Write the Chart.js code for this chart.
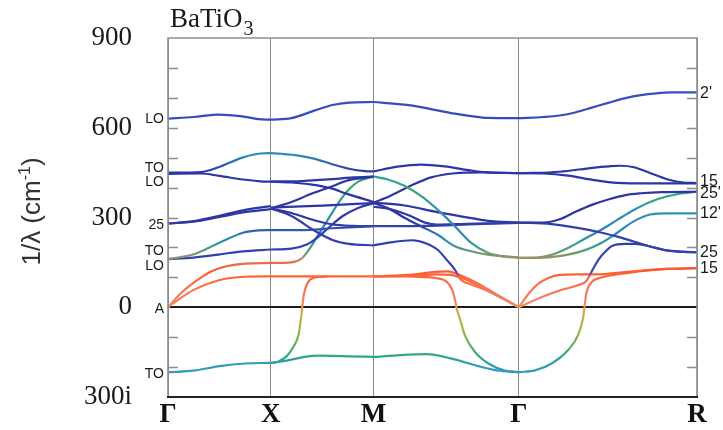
<!DOCTYPE html>
<html>
<head>
<meta charset="utf-8">
<title>BaTiO3 phonon dispersion</title>
<script src="https://cdn.jsdelivr.net/npm/chart.js"></script>
<style>
  html, body { margin: 0; padding: 0; background: #fff; }
  #wrap { width: 723px; height: 430px; }
</style>
</head>
<body>
<div id="wrap"><canvas id="dispersion" width="723" height="430"></canvas></div>
<script>
// path Γ–X–M–Γ–R, distance along the path in units of π/a
const pathTicks = [0, 1, 2, 3.414, 5.146];
const pathLabels = ['Γ', 'X', 'M', 'Γ', 'R'];
// frequency axis, negative values are imaginary frequencies
const freqTicks = [900, 600, 300, 0, -300];
const freqLabels = ['900', '600', '300', '0', '300i'];

// mode labels at Γ (left edge) and at R (right edge): [text, cm-1]
const gammaModes = [['LO', 630], ['TO', 466], ['LO', 419], ['25', 276], ['TO', 187], ['LO', 136], ['A', -6], ['TO', -222]];
const rModes = [["2'", 715], ['15', 421], ["25'", 380], ["12'", 313], ['25', 184], ['15', 128]];

// branches on each leg of the path, points are [q, frequency]
const gammaX = [
  [[0, 630], [0.25, 636], [0.5, 644], [0.72, 638], [0.88, 629], [1, 627]],
  [[0, 450], [0.32, 452], [0.49, 468], [0.73, 501], [0.9, 514], [1, 515]],
  [[0, 446], [0.32, 447], [0.5, 439], [0.73, 427], [0.9, 421], [1, 420]],
  [[0, 280], [0.25, 288], [0.49, 305], [0.73, 324], [1, 338]],
  [[0, 280], [0.25, 286], [0.49, 301], [0.73, 317], [1, 328]],
  [[0, 161], [0.25, 177], [0.49, 214], [0.73, 249], [0.88, 257], [1, 258]],
  [[0, 161], [0.25, 166], [0.49, 176], [0.73, 187], [1, 193]],
  [[0, 0], [0.12, 45], [0.25, 82], [0.41, 118], [0.57, 137], [0.75, 146], [1, 148]],
  [[0, 0], [0.12, 30], [0.25, 58], [0.41, 81], [0.57, 96], [0.75, 102], [1, 103]],
  [[0, -217], [0.25, -212], [0.5, -197], [0.75, -188], [1, -186]]
];

const xM = [
  [[1, 627], [1.2, 632], [1.43, 658], [1.6, 676], [1.76, 684], [2, 686]],
  [[1, 515], [1.1, 513], [1.27, 507], [1.43, 496], [1.59, 479], [1.76, 463], [1.92, 455], [2, 454]],
  [[1, 420], [1.2, 417], [1.4, 410], [1.58, 398], [1.75, 378], [2, 352]],
  [[1, 420], [1.3, 422], [1.6, 428], [1.8, 434], [2, 437]],
  [[1, 330], [1.2, 352], [1.4, 380], [1.58, 402], [1.75, 424], [2, 437]],
  [[1, 333], [1.5, 340], [2, 348]],
  [[1, 330], [1.2, 315], [1.43, 290], [1.6, 277], [1.8, 272], [2, 271]],
  [[1, 330], [1.2, 305], [1.43, 255], [1.6, 225], [1.76, 212], [2, 207]],
  [[1, 258], [1.3, 258], [1.6, 264], [2, 271]],
  [[1, 193], [1.2, 196], [1.35, 210], [1.45, 232], [1.55, 262], [1.7, 305], [1.85, 332], [2, 348]],
  [[1, 148], [1.2, 150], [1.3, 163], [1.38, 197], [1.45, 236], [1.55, 290], [1.65, 345], [1.75, 390], [1.85, 420], [2, 437]],
  [[1, 103], [1.5, 103], [2, 103]],
  [[1, -186], [1.07, -182], [1.15, -165], [1.22, -132], [1.27, -92], [1.3, -20], [1.32, 40], [1.36, 82], [1.42, 99], [1.55, 103]],
  [[1, -186], [1.12, -180], [1.45, -162], [1.77, -164], [2, -166]]
];

const mGamma = [
  [[2, 686], [2.3, 677], [2.46, 669], [2.62, 658], [2.79, 647], [2.95, 639], [3.11, 633], [3.414, 632]],
  [[2, 454], [2.23, 470], [2.46, 477], [2.69, 471], [2.95, 457], [3.11, 451], [3.414, 448]],
  [[2, 437], [2.13, 428], [2.3, 406], [2.46, 372], [2.62, 327], [2.79, 271], [2.95, 215], [3.11, 182], [3.25, 170], [3.414, 165]],
  [[2, 350], [2.16, 372], [2.36, 406], [2.56, 434], [2.79, 448], [3.05, 451], [3.414, 448]],
  [[2, 350], [2.3, 340], [2.62, 318], [2.95, 298], [3.11, 289], [3.414, 283]],
  [[2, 336], [2.16, 328], [2.36, 305], [2.5, 283], [2.62, 276], [2.9, 279], [3.414, 282]],
  [[2, 271], [2.5, 272], [3, 278], [3.414, 282]],
  [[2, 348], [2.13, 333], [2.3, 299], [2.46, 271], [2.62, 243], [2.79, 204], [2.95, 187], [3.11, 176], [3.414, 167]],
  [[2, 207], [2.15, 216], [2.38, 224], [2.5, 215], [2.62, 193], [2.72, 155], [2.79, 126], [2.85, 92], [2.95, 76], [3.1, 56], [3.25, 30], [3.414, 0]],
  [[2, 103], [2.4, 110], [2.6, 118], [2.72, 120], [2.85, 106], [3, 82], [3.2, 42], [3.414, 0]],
  [[2, 103], [2.4, 106], [2.6, 110], [2.75, 108], [2.9, 92], [3.1, 58], [3.414, 0]],
  [[2, 103], [2.3, 103], [2.5, 101], [2.62, 97], [2.7, 88], [2.76, 62], [2.795, 20], [2.805, 0], [2.838, -37], [2.887, -93], [2.985, -149], [3.117, -188], [3.28, -212], [3.414, -217]],
  [[2, -166], [2.26, -160], [2.52, -157], [2.75, -171], [3.01, -196], [3.2, -211], [3.414, -217]]
];

const gammaR = [
  [[3.414, 632], [3.65, 636], [3.81, 641], [3.97, 652], [4.13, 668], [4.29, 684], [4.45, 699], [4.6, 709], [4.75, 715], [4.9, 718], [5.146, 718]],
  [[3.414, 448], [3.81, 453], [4.13, 466], [4.29, 471], [4.4, 473], [4.533, 468], [4.694, 448], [4.854, 428], [5.014, 417], [5.146, 415]],
  [[3.414, 448], [3.65, 447], [3.89, 440], [4.13, 426], [4.37, 416], [4.7, 414], [5.146, 414]],
  [[3.414, 283], [3.65, 283], [3.81, 294], [3.97, 320], [4.13, 343], [4.29, 361], [4.45, 375], [4.6, 381], [4.8, 385], [5.146, 386]],
  [[3.414, 283], [3.73, 278], [3.97, 266], [4.21, 250], [4.37, 236], [4.53, 220], [4.69, 203], [4.85, 190], [5.01, 185], [5.146, 184]],
  [[3.414, 165], [3.6, 166], [3.73, 175], [3.89, 198], [4.05, 228], [4.21, 258], [4.37, 292], [4.53, 325], [4.69, 352], [4.85, 370], [5.01, 381], [5.146, 387]],
  [[3.414, 165], [3.65, 166], [3.89, 176], [4.05, 190], [4.21, 214], [4.37, 249], [4.53, 287], [4.69, 310], [4.85, 314], [5.146, 314]],
  [[3.414, 0], [3.65, 36], [3.81, 56], [3.97, 72], [4.07, 88], [4.13, 125], [4.19, 160], [4.26, 188], [4.32, 205], [4.45, 212], [4.55, 212], [4.69, 203], [4.85, 190], [5.146, 184]],
  [[3.414, 0], [3.5, 42], [3.6, 78], [3.7, 98], [3.81, 108], [4, 110], [4.2, 110], [4.37, 115], [4.53, 120], [4.69, 125], [4.85, 128], [5.146, 131]],
  [[3.414, -217], [3.571, -211], [3.732, -188], [3.892, -143], [3.989, -93], [4.037, -37], [4.052, 2], [4.068, 45], [4.11, 80], [4.2, 98], [4.3, 106], [4.45, 114], [4.6, 121], [4.85, 128], [5.146, 131]]
];

// colour scheme per branch (vertical gradient, chosen by mode character)
const tones = {
  gammaX: ['map', 'hi', 'map', 'map', 'map', 'map', 'blue', 'map', 'map', 'map'],
  xM: ['map', 'hi', 'map', 'map', 'map', 'map', 'map', 'blue', 'map', 'blue', 'green', 'map', 'map', 'map'],
  mGamma: ['map', 'map', 'green', 'map', 'map', 'map', 'map', 'map', 'blue', 'map', 'map', 'map', 'map'],
  gammaR: ['map', 'map', 'map', 'map', 'blue', 'green', 'green', 'blue', 'map', 'map']
};

const mapStops = [
  [900, '#3c58c8'], [560, '#3447b6'], [470, '#2c36a4'], [290, '#2d35a2'], [268, '#3146ab'],
  [245, '#2f78b8'], [215, '#2b97a6'], [186, '#5f9b78'], [168, '#949268'], [150, '#e4704a'],
  [126, '#ff5630'], [100, '#ff663a'], [50, '#f5785a'], [8, '#f08a6a'], [-6, '#d9a646'],
  [-60, '#b5b442'], [-120, '#68b060'], [-168, '#2aa58c'], [-195, '#339bbb'], [-300, '#3c8ad8']
];
const ownStops = {
  map: [],
  blue: [[900, '#3c58c8'], [470, '#2c36a4'], [130, '#3442b2'], [112, '#7050a0']],
  green: [[900, '#3c58c8'], [470, '#2e5ab6'], [440, '#2aa092'], [392, '#36a872'], [330, '#2b96ae'],
          [262, '#3080bc'], [212, '#2b9aa2'], [182, '#6a9c70'], [166, '#949268']],
  hi: [[900, '#3c58c8'], [530, '#2896b8'], [500, '#2a86b8'], [470, '#2e4fb0'], [452, '#2c36a4']]
};

function stopsFor(tone) {
  const own = ownStops[tone];
  if (!own.length) return mapStops;
  const last = own[own.length - 1][0];
  return own.concat(mapStops.filter(s => s[0] < last));
}

const gradientCache = {};
function toneGradient(chart, tone) {
  const { ctx, chartArea, scales } = chart;
  const key = tone + ':' + chartArea.top + ':' + chartArea.bottom;
  if (gradientCache[key]) return gradientCache[key];
  const h = chartArea.bottom - chartArea.top;
  const g = ctx.createLinearGradient(0, chartArea.top, 0, chartArea.bottom);
  stopsFor(tone).forEach(([v, c]) => {
    const off = (scales.y.getPixelForValue(v) - chartArea.top) / h;
    g.addColorStop(Math.min(1, Math.max(0, off)), c);
  });
  gradientCache[key] = g;
  return g;
}

const legs = { gammaX, xM, mGamma, gammaR };
const datasets = [];
Object.keys(legs).forEach(name => {
  legs[name].forEach((pts, i) => {
    const tone = tones[name][i];
    datasets.push({
      data: pts,
      borderColor: c => c.chart.chartArea ? toneGradient(c.chart, tone) : '#3040b0',
      borderWidth: 2.2,
      pointRadius: 0,
      fill: false,
      cubicInterpolationMode: 'monotone'
    });
  });
});

// frame, inward ticks, mode labels, compound name and axis title
const decor = {
  id: 'decor',
  afterDatasetsDraw(chart) {
    const { ctx, chartArea: a, scales: { y } } = chart;
    ctx.save();

    ctx.strokeStyle = '#8d8d8d';
    ctx.lineWidth = 1.3;
    for (let v = -200; v <= 800; v += 100) {
      if (v === 0) continue;
      const py = Math.round(y.getPixelForValue(v)) + 0.5;
      ctx.beginPath();
      ctx.moveTo(a.left, py); ctx.lineTo(a.left + 10, py);
      ctx.moveTo(a.right - 10, py); ctx.lineTo(a.right, py);
      ctx.stroke();
    }

    ctx.lineWidth = 1.6;
    ctx.beginPath();
    ctx.moveTo(a.left, a.bottom); ctx.lineTo(a.left, a.top);
    ctx.lineTo(a.right, a.top); ctx.lineTo(a.right, a.bottom);
    ctx.stroke();
    ctx.strokeStyle = '#222';
    ctx.lineWidth = 2;
    ctx.beginPath();
    ctx.moveTo(a.left - 1, a.bottom); ctx.lineTo(a.right + 1, a.bottom);
    ctx.stroke();

    ctx.fillStyle = '#1a1a1a';
    ctx.textBaseline = 'middle';
    ctx.font = '14px "Liberation Sans"';
    ctx.textAlign = 'right';
    gammaModes.forEach(([t, v]) => ctx.fillText(t, a.left - 4, y.getPixelForValue(v)));
    ctx.font = '16px "Liberation Sans"';
    ctx.textAlign = 'left';
    rModes.forEach(([t, v]) => ctx.fillText(t, a.right + 3, y.getPixelForValue(v)));

    // BaTiO3 with subscript
    ctx.textBaseline = 'alphabetic';
    ctx.font = '27px "Liberation Serif"';
    ctx.fillText('BaTiO', a.left + 2, a.top - 11);
    const w = ctx.measureText('BaTiO').width;
    ctx.font = '20px "Liberation Serif"';
    ctx.fillText('3', a.left + 3 + w, a.top - 3);

    // 1/λ (cm-1), rotated
    ctx.fillStyle = '#333';
    ctx.translate(40, (a.top + a.bottom) / 2 - 6);
    ctx.rotate(-Math.PI / 2);
    const big = '26px "Liberation Sans"', small = '16px "Liberation Sans"';
    ctx.font = big;
    const w1 = ctx.measureText('1/λ (cm').width, w3 = ctx.measureText(')').width;
    ctx.font = small;
    const w2 = ctx.measureText('-1').width;
    let x = -(w1 + w2 + w3) / 2;
    ctx.font = big; ctx.fillText('1/λ (cm', x, 0); x += w1;
    ctx.font = small; ctx.fillText('-1', x, -10); x += w2;
    ctx.font = big; ctx.fillText(')', x, 0);

    ctx.restore();
  }
};

new Chart(document.getElementById('dispersion'), {
  type: 'line',
  data: { datasets },
  options: {
    responsive: false,
    devicePixelRatio: 1,
    animation: false,
    events: [],
    layout: { padding: { left: 0, right: 26, top: 38, bottom: 0 } },
    plugins: { legend: { display: false }, tooltip: { enabled: false } },
    scales: {
      x: {
        type: 'linear',
        min: 0,
        max: 5.146,
        afterBuildTicks: s => { s.ticks = pathTicks.map(v => ({ value: v })); },
        afterFit: s => { s.height = 33; },
        ticks: {
          autoSkip: false,
          maxRotation: 0,
          padding: 2,
          color: '#111',
          font: { family: 'Liberation Serif', size: 27, weight: 'bold' },
          callback: (v, i) => pathLabels[i]
        },
        grid: { color: '#8a8a8a', lineWidth: 1, drawTicks: false },
        border: { display: false }
      },
      y: {
        min: -300,
        max: 900,
        afterBuildTicks: s => { s.ticks = freqTicks.map(v => ({ value: v })); },
        afterFit: s => { s.width = 168; },
        ticks: {
          padding: 0,
          color: '#1a1a1a',
          font: { family: 'Liberation Serif', size: 27 },
          callback: (v, i) => freqLabels[i]
        },
        grid: {
          drawTicks: true,
          tickLength: 36,
          tickColor: 'rgba(0,0,0,0)',
          lineWidth: 2,
          color: c => c.tick && c.tick.value === 0 ? '#1a1a1a' : 'rgba(0,0,0,0)'
        },
        border: { display: false }
      }
    }
  },
  plugins: [decor]
});
</script>
</body>
</html>
